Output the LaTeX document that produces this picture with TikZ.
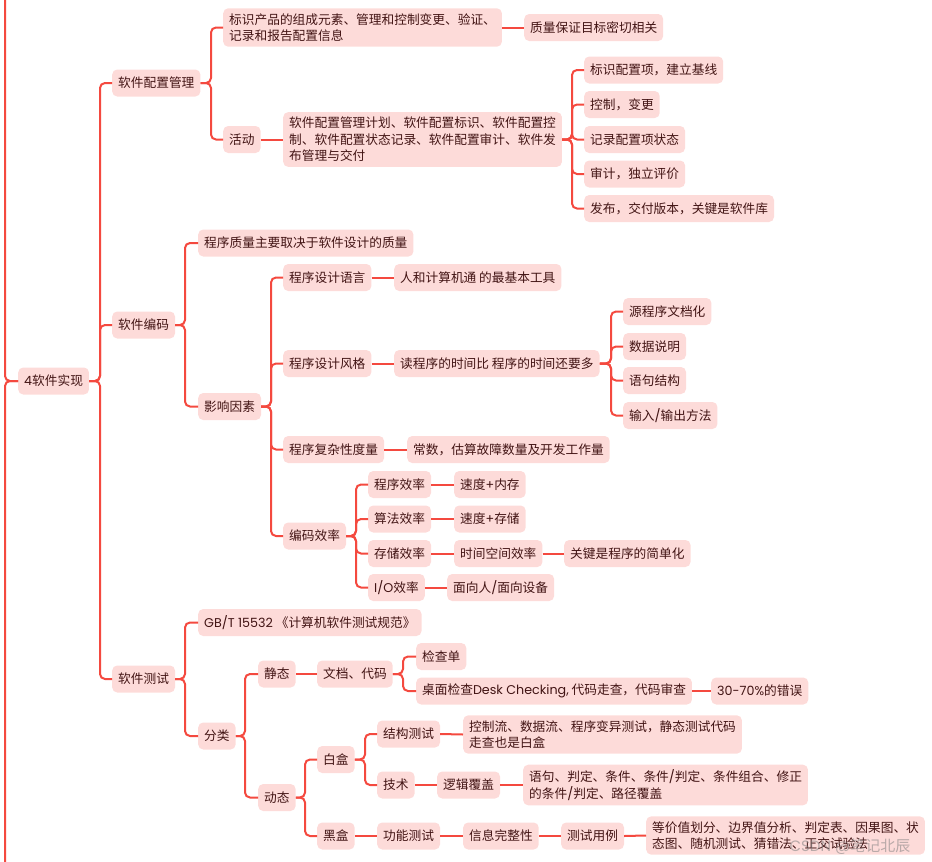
\documentclass[tikz,border=0pt]{standalone}
\usepackage{fontspec}
\setmainfont{Noto Sans CJK SC}
\newfontfamily\lat{Poppins}
\definecolor{linec}{HTML}{F4493F}
\definecolor{boxc}{HTML}{FDDBD9}
\definecolor{txtc}{HTML}{421414}
\tikzset{
  tbox/.style={anchor=west, fill=boxc, rounded corners=5pt, text=txtc,
    font=\fontsize{12.7}{16.5}\selectfont, inner xsep=6pt, inner ysep=0pt,
    minimum height=27pt, align=left},
  mbox/.style={tbox, inner ysep=5pt},
  conn/.style={draw=linec, line width=2pt, rounded corners=5pt},
}
\newcommand\br[3]{\draw[conn] (#1.east) -- (#1.east -| #2) |- (#3.west);}
\newcommand\lk[2]{\draw[conn] (#1.east) -- (#2.west);}
\begin{document}
\begin{tikzpicture}[x=1pt,y=-1pt]
\useasboundingbox (0,0) rectangle (932,862);
% bracket x coordinates
\coordinate (x0) at (100,0);
\coordinate (x1) at (211,0);
\coordinate (x2) at (572,0);
\coordinate (x3) at (185,0);
\coordinate (x4) at (271,0);
\coordinate (x5) at (611,0);
\coordinate (x6) at (356,0);
\coordinate (x7) at (245,0);
\coordinate (x8) at (403,0);
\coordinate (x9) at (305,0);
\coordinate (x10) at (365,0);
\coordinate (top) at (5,0);
\coordinate (bot) at (5,862);

% nodes
\node[tbox] (r) at (18,381) {{\lat 4}软件实现};
\node[tbox] (scm) at (112,83) {软件配置管理};
\node[tbox] (code) at (112,325) {软件编码};
\node[tbox] (test) at (112,679) {软件测试};

\node[mbox] (a1) at (223,27.5) {标识产品的组成元素、管理和控制变更、验证、\\记录和报告配置信息};
\node[tbox] (q) at (524,27.5) {质量保证目标密切相关};
\node[tbox] (act) at (223,139.5) {活动};
\node[mbox] (actd) at (283,139.5) {软件配置管理计划、软件配置标识、软件配置控\\制、软件配置状态记录、软件配置审计、软件发\\布管理与交付};
\node[tbox] (s1) at (584,70) {标识配置项，建立基线};
\node[tbox] (s2) at (584,104.5) {控制，变更};
\node[tbox] (s3) at (584,139.5) {记录配置项状态};
\node[tbox] (s4) at (584,174) {审计，独立评价};
\node[tbox] (s5) at (584,208.5) {发布，交付版本，关键是软件库};

\node[tbox] (cq) at (198,243) {程序质量主要取决于软件设计的质量};
\node[tbox] (inf) at (198,406.5) {影响因素};
\node[tbox] (lang) at (283,277.5) {程序设计语言};
\node[tbox] (langd) at (394,277.5) {人和计算机通 的最基本工具};
\node[tbox] (style) at (283,363.5) {程序设计风格};
\node[tbox] (styled) at (394,363.5) {读程序的时间比 程序的时间还要多};
\node[tbox] (d1) at (623,311.5) {源程序文档化};
\node[tbox] (d2) at (623,346.5) {数据说明};
\node[tbox] (d3) at (623,380.5) {语句结构};
\node[tbox] (d4) at (623,415.5) {输入{\lat /}输出方法};
\node[tbox] (cplx) at (283,449.5) {程序复杂性度量};
\node[tbox] (cplxd) at (407,449.5) {常数，估算故障数量及开发工作量};
\node[tbox] (eff) at (283,536) {编码效率};
\node[tbox] (pe) at (368,484.5) {程序效率};
\node[tbox] (ped) at (454,484.5) {速度{\lat +}内存};
\node[tbox] (ae) at (368,519) {算法效率};
\node[tbox] (aed) at (454,519) {速度{\lat +}存储};
\node[tbox] (se) at (368,553.5) {存储效率};
\node[tbox] (sed) at (454,553.5) {时间空间效率};
\node[tbox] (sedd) at (564,553.5) {关键是程序的简单化};
\node[tbox] (ioe) at (368,587.5) {{\lat I/O}效率};
\node[tbox] (ioed) at (447,587.5) {面向人{\lat /}面向设备};

\node[tbox] (gb) at (198,622.5) {{\lat GB/T 15532} 《计算机软件测试规范》};
\node[tbox] (cls) at (198,736) {分类};
\node[tbox] (st) at (258,674) {静态};
\node[tbox] (doc) at (317,674) {文档、代码};
\node[tbox] (chk) at (416,656.5) {检查单};
\node[tbox] (desk) at (416,691) {桌面检查{\lat Desk Checking,} 代码走查，代码审查};
\node[tbox] (pct) at (711,691) {{\lat 30-70\%}的错误};
\node[tbox] (dy) at (258,797.5) {动态};
\node[tbox] (wb) at (317,759.5) {白盒};
\node[tbox] (struct) at (377,734) {结构测试};
\node[mbox] (structd) at (463,734.5) {控制流、数据流、程序变异测试，静态测试代码\\走查也是白盒};
\node[tbox] (tech) at (377,785) {技术};
\node[tbox] (logic) at (437,785) {逻辑覆盖};
\node[mbox] (logicd) at (523,785) {语句、判定、条件、条件{\lat /}判定、条件组合、修正\\的条件{\lat /}判定、路径覆盖};
\node[tbox] (bb) at (317,836) {黑盒};
\node[tbox] (func) at (377,836) {功能测试};
\node[tbox] (info) at (463,836) {信息完整性};
\node[tbox] (tc) at (561,836) {测试用例};
\node[mbox] (tcd) at (646,835.5) {等价值划分、边界值分析、判定表、因果图、状\\态图、随机测试、猜错法、正交试验法};

% connectors
\draw[conn] (top) |- (r.west);
\draw[conn] (bot) |- (r.west);
\br{r}{x0}{scm} \br{r}{x0}{code} \br{r}{x0}{test}
\br{scm}{x1}{a1} \br{scm}{x1}{act}
\lk{a1}{q} \lk{act}{actd}
\br{actd}{x2}{s1} \br{actd}{x2}{s2} \br{actd}{x2}{s3} \br{actd}{x2}{s4} \br{actd}{x2}{s5}
\br{code}{x3}{cq} \br{code}{x3}{inf}
\br{inf}{x4}{lang} \br{inf}{x4}{style} \br{inf}{x4}{cplx} \br{inf}{x4}{eff}
\lk{lang}{langd} \lk{style}{styled} \lk{cplx}{cplxd}
\br{styled}{x5}{d1} \br{styled}{x5}{d2} \br{styled}{x5}{d3} \br{styled}{x5}{d4}
\br{eff}{x6}{pe} \br{eff}{x6}{ae} \br{eff}{x6}{se} \br{eff}{x6}{ioe}
\lk{pe}{ped} \lk{ae}{aed} \lk{se}{sed} \lk{sed}{sedd} \lk{ioe}{ioed}
\br{test}{x3}{gb} \br{test}{x3}{cls}
\br{cls}{x7}{st} \br{cls}{x7}{dy}
\lk{st}{doc}
\br{doc}{x8}{chk} \br{doc}{x8}{desk}
\lk{desk}{pct}
\br{dy}{x9}{wb} \br{dy}{x9}{bb}
\br{wb}{x10}{struct} \br{wb}{x10}{tech}
\lk{struct}{structd} \lk{tech}{logic} \lk{logic}{logicd}
\lk{bb}{func} \lk{func}{info} \lk{info}{tc} \lk{tc}{tcd}

% watermark
\node[anchor=west, text=gray, opacity=0.55, font=\fontsize{15}{15}\selectfont] (wm) at (786,847) {{\lat CSDN @}笔记北辰};
\end{tikzpicture}
\end{document}
